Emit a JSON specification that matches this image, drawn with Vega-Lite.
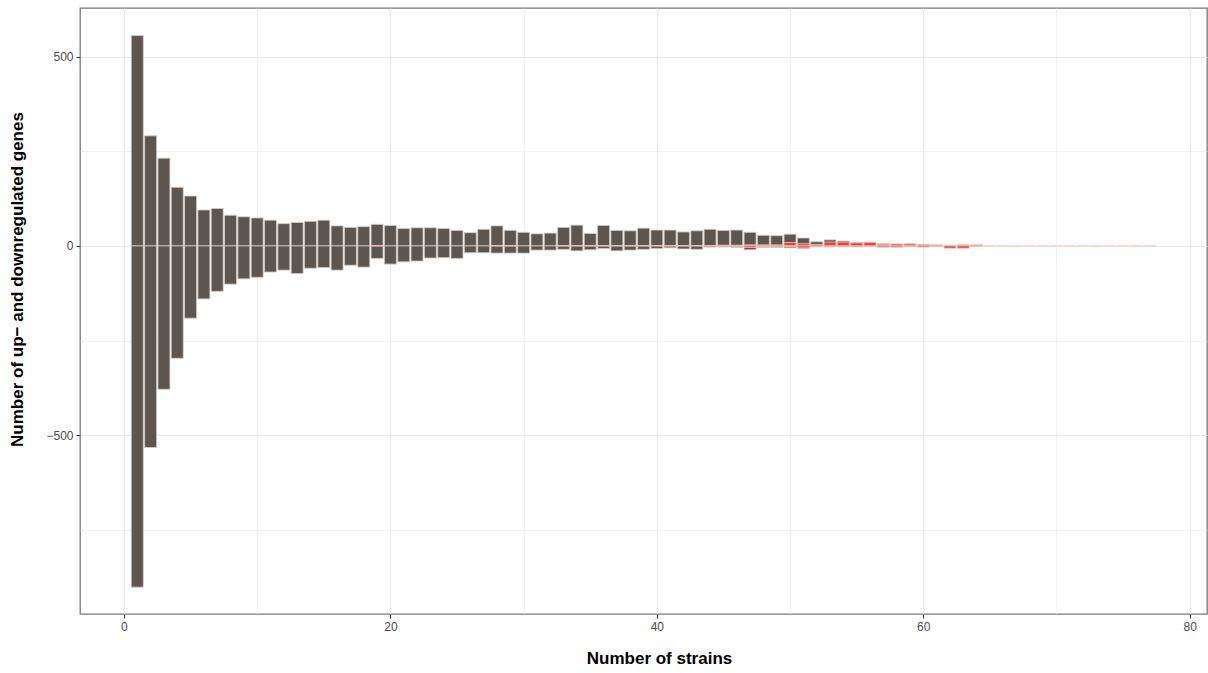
{
  "$schema": "https://vega.github.io/schema/vega-lite/v6.json",
  "width": 1127,
  "height": 606,
  "autosize": {"type": "none"},
  "padding": {"left": 80, "top": 8, "right": 1, "bottom": 59},
  "background": "white",
  "config": {
    "view": {"stroke": "#7a7a7a", "strokeWidth": 1.3},
    "font": "Liberation Sans"
  },
  "datasets": {
    "grey": [
      {"s":1,"v":556},{"s":2,"v":291},{"s":3,"v":232},{"s":4,"v":155},{"s":5,"v":132},{"s":6,"v":95},{"s":7,"v":99},{"s":8,"v":81},{"s":9,"v":77},{"s":10,"v":74},
      {"s":11,"v":68},{"s":12,"v":59},{"s":13,"v":62},{"s":14,"v":65},{"s":15,"v":68},{"s":16,"v":53},{"s":17,"v":49},{"s":18,"v":51},{"s":19,"v":57},{"s":20,"v":54},
      {"s":21,"v":46},{"s":22,"v":48},{"s":23,"v":48},{"s":24,"v":46},{"s":25,"v":41},{"s":26,"v":35},{"s":27,"v":44},{"s":28,"v":53},{"s":29,"v":41},{"s":30,"v":36},
      {"s":31,"v":32},{"s":32,"v":34},{"s":33,"v":49},{"s":34,"v":55},{"s":35,"v":33},{"s":36,"v":54},{"s":37,"v":41},{"s":38,"v":40},{"s":39,"v":47},{"s":40,"v":42},
      {"s":41,"v":42},{"s":42,"v":37},{"s":43,"v":40},{"s":44,"v":44},{"s":45,"v":41},{"s":46,"v":42},{"s":47,"v":36},{"s":48,"v":28},{"s":49,"v":27},{"s":50,"v":31},
      {"s":51,"v":21},{"s":52,"v":11},{"s":53,"v":16},{"s":54,"v":13},{"s":55,"v":9},{"s":56,"v":10},{"s":57,"v":6},{"s":58,"v":5},{"s":59,"v":6},{"s":60,"v":4},
      {"s":1,"v":-902},{"s":2,"v":-533},{"s":3,"v":-379},{"s":4,"v":-297},{"s":5,"v":-191},{"s":6,"v":-140},{"s":7,"v":-120},{"s":8,"v":-101},{"s":9,"v":-87},{"s":10,"v":-83},
      {"s":11,"v":-69},{"s":12,"v":-64},{"s":13,"v":-73},{"s":14,"v":-59},{"s":15,"v":-57},{"s":16,"v":-64},{"s":17,"v":-51},{"s":18,"v":-56},{"s":19,"v":-33},{"s":20,"v":-48},
      {"s":21,"v":-42},{"s":22,"v":-40},{"s":23,"v":-32},{"s":24,"v":-31},{"s":25,"v":-33},{"s":26,"v":-18},{"s":27,"v":-18},{"s":28,"v":-19},{"s":29,"v":-19},{"s":30,"v":-19},
      {"s":31,"v":-11},{"s":32,"v":-11},{"s":33,"v":-9},{"s":34,"v":-13},{"s":35,"v":-10},{"s":36,"v":-7},{"s":37,"v":-13},{"s":38,"v":-11},{"s":39,"v":-9},{"s":40,"v":-7},
      {"s":41,"v":-5},{"s":42,"v":-8},{"s":43,"v":-9},{"s":44,"v":-3},{"s":45,"v":-3},{"s":46,"v":-4},{"s":47,"v":-10},{"s":48,"v":-4},{"s":49,"v":-4},{"s":50,"v":-5},
      {"s":51,"v":-7},{"s":52,"v":-2},{"s":53,"v":-2},{"s":54,"v":-2},{"s":55,"v":-2},{"s":56,"v":-1},{"s":57,"v":-3},{"s":58,"v":-3},{"s":59,"v":-1},{"s":60,"v":-2}
    ],
    "red": [
      {"s":19,"v":1},{"s":28,"v":1},{"s":29,"v":1},{"s":33,"v":1},{"s":34,"v":1},{"s":35,"v":1},{"s":36,"v":1},{"s":37,"v":1},{"s":38,"v":1},{"s":39,"v":1},{"s":40,"v":1},
      {"s":41,"v":1},{"s":42,"v":1},{"s":43,"v":1},{"s":44,"v":1},
      {"s":45,"v":2},{"s":46,"v":2},{"s":47,"v":3},{"s":48,"v":3},{"s":49,"v":3},{"s":50,"v":9},{"s":51,"v":6},{"s":52,"v":4},{"s":53,"v":10},{"s":54,"v":10},
      {"s":55,"v":8},{"s":56,"v":9},{"s":57,"v":4},{"s":58,"v":5},{"s":59,"v":5},{"s":60,"v":3},{"s":61,"v":3},{"s":62,"v":1},{"s":63,"v":3},{"s":64,"v":3},
      {"s":45,"v":-1},{"s":46,"v":-1},{"s":47,"v":-4},{"s":48,"v":-1},{"s":49,"v":-2},{"s":50,"v":-1},{"s":51,"v":-5},{"s":52,"v":-2},{"s":53,"v":-2},{"s":54,"v":-2},
      {"s":55,"v":-2},{"s":56,"v":-1},{"s":57,"v":-3},{"s":58,"v":-3},{"s":59,"v":-1},{"s":60,"v":-3},{"s":61,"v":-1},{"s":62,"v":-6},{"s":63,"v":-6},{"s":64,"v":-1}
    ],
    "pale": [
      {"s":65,"v":1},{"s":66,"v":1},{"s":67,"v":1},{"s":68,"v":1},{"s":69,"v":1},{"s":70,"v":1},{"s":71,"v":1},{"s":72,"v":1},{"s":73,"v":1},{"s":74,"v":1},{"s":75,"v":1},{"s":76,"v":1},{"s":77,"v":1},
      {"s":65,"v":-1},{"s":66,"v":-1},{"s":67,"v":-1},{"s":68,"v":-1},{"s":69,"v":-1},{"s":70,"v":-1},{"s":71,"v":-1},{"s":72,"v":-1},{"s":73,"v":-1},{"s":74,"v":-1},{"s":75,"v":-1},{"s":76,"v":-1},{"s":77,"v":-1}
    ]
  },
  "encoding": {
    "x": {
      "field": "s", "type": "quantitative",
      "scale": {"domain": [-3.3, 81.3], "nice": false, "zero": false, "padding": 0},
      "axis": {
        "title": "Number of strains",
        "values": [0,10,20,30,40,50,60,70,80],
        "labelExpr": "datum.value % 20 === 0 ? datum.label : ''",
        "tickOpacity": {"condition": {"test": "datum.value % 20 !== 0", "value": 0}, "value": 1},
        "gridWidth": {"condition": {"test": "datum.value % 20 !== 0", "value": 0.6}, "value": 1},
        "gridColor": "#ede7e7",
        "grid": true,
        "domain": false,
        "tickColor": "#333333",
        "tickSize": 4,
        "labelFont": "Liberation Sans",
        "labelFontSize": 12,
        "labelColor": "#4d4d4d",
        "labelPadding": 3,
        "titleFont": "Liberation Sans",
        "titleFontSize": 17,
        "titleFontWeight": "bold",
        "titleColor": "#000000",
        "titleX": 579,
        "titleY": 36
      }
    },
    "y": {
      "field": "v", "type": "quantitative", "stack": null,
      "scale": {"domain": [-973, 629], "nice": false, "zero": false, "padding": 0},
      "axis": {
        "title": "Number of up\u2212 and downregulated genes",
        "values": [-750,-500,-250,0,250,500],
        "labelExpr": "datum.value % 500 === 0 ? datum.label : ''",
        "tickOpacity": {"condition": {"test": "datum.value % 500 !== 0", "value": 0}, "value": 1},
        "gridWidth": {"condition": {"test": "datum.value % 500 !== 0", "value": 0.6}, "value": 1},
        "gridColor": "#ede7e7",
        "grid": true,
        "domain": false,
        "tickColor": "#333333",
        "tickSize": 4,
        "labelFont": "Liberation Sans",
        "labelFontSize": 12,
        "labelColor": "#4d4d4d",
        "labelPadding": 3,
        "titleFont": "Liberation Sans",
        "titleFontSize": 17,
        "titleFontWeight": "bold",
        "titleColor": "#000000",
        "titleX": -54,
        "titleY": 271
      }
    }
  },
  "layer": [
    {
      "data": {"name": "grey"},
      "mark": {"type": "bar", "size": 12, "fill": "#5d5650", "stroke": "#d6cdc8", "strokeWidth": 0.8}
    },
    {
      "data": {"name": "red"},
      "mark": {"type": "bar", "size": 12, "fill": "#e8433b", "stroke": "#f2c6bf", "strokeWidth": 0.8}
    },
    {
      "data": {"name": "pale"},
      "mark": {"type": "bar", "size": 12, "fill": "#f0c6be", "stroke": "#f5d8d2", "strokeWidth": 0.8}
    }
  ]
}
